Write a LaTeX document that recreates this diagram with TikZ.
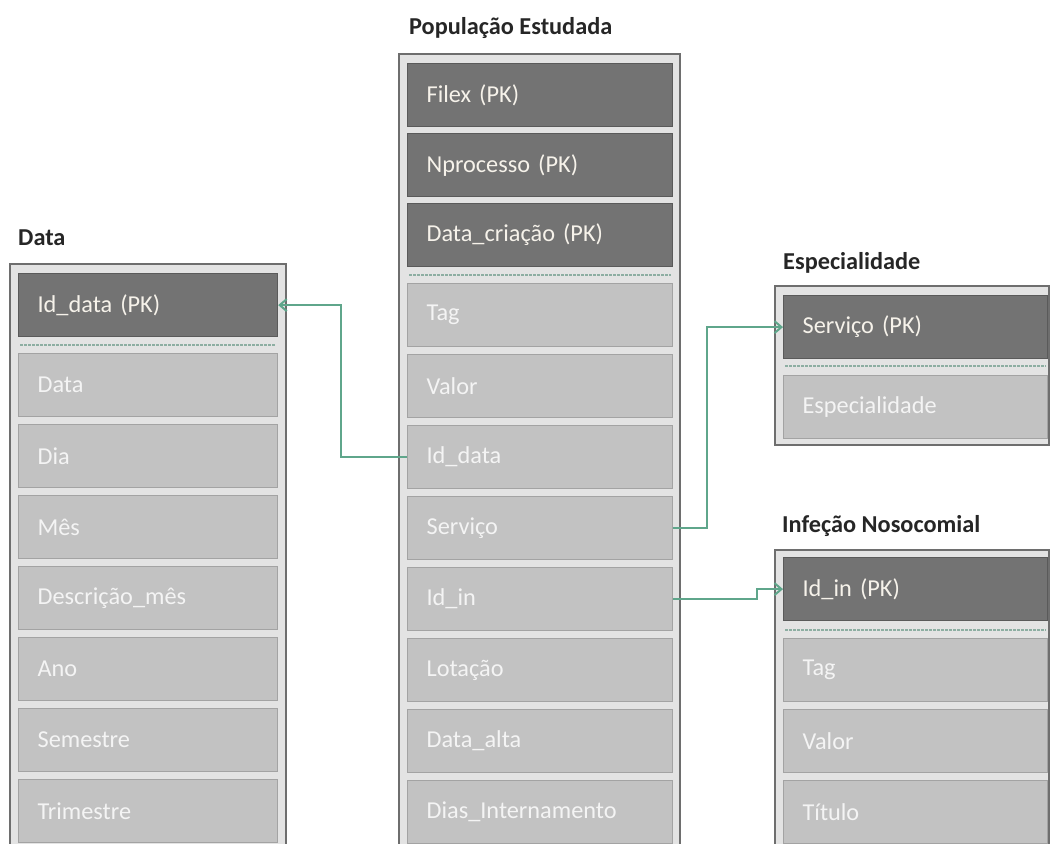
\documentclass[tikz,border=0pt]{standalone}
\usepackage{fontspec}
\setmainfont{Carlito}
\usetikzlibrary{arrows.meta}
\definecolor{frameline}{HTML}{6E6E6E}
\definecolor{framebg}{HTML}{E3E3E3}
\definecolor{keyfill}{HTML}{737373}
\definecolor{keyedge}{HTML}{5A5A5A}
\definecolor{keytext}{HTML}{F6F2EA}
\definecolor{fieldfill}{HTML}{C2C2C2}
\definecolor{fieldedge}{HTML}{A3A3A3}
\definecolor{fieldtext}{HTML}{F4F4F4}
\definecolor{titletext}{HTML}{262626}
\definecolor{sepline}{HTML}{8DAEA2}
\definecolor{linkgreen}{HTML}{5FA68B}
\begin{document}
\begin{tikzpicture}[x=1pt,y=-1pt,
  tablebox/.style={draw=frameline, line width=1.8pt, fill=framebg},
  rowbase/.style={anchor=north west, minimum height=63pt, inner xsep=19pt,
    inner ysep=0pt, align=left, line width=1.2pt,
    font=\fontsize{24.3}{27}\selectfont},
  keyrow/.style={rowbase, draw=keyedge, fill=keyfill, text=keytext},
  fieldrow/.style={rowbase, draw=fieldedge, fill=fieldfill, text=fieldtext},
  leftw/.style={text width=221pt},
  midw/.style={text width=227pt},
  rightw/.style={text width=226pt},
  title/.style={anchor=base west, inner sep=0pt, text=titletext,
    font=\bfseries\fontsize{24.3}{27}\selectfont},
  sep/.style={draw=sepline, line width=2pt, dash pattern=on 2.5pt off 1.5pt},
  link/.style={draw=linkgreen, line width=2pt,
    -{Straight Barb[length=7pt,width=12pt,line width=2pt]}}
]
\useasboundingbox (0,0) rectangle (1051,843);
\clip (0,0) rectangle (1051,843);

% ---------- Data ----------
\node[title] (tdata) at (18,245) {Data};
\draw[tablebox] (10,264) rectangle (286,880);
\node[keyrow,leftw]   (d0) at (18,273) {Id\_data (PK)};
\draw[sep] (20,345) -- (276,345);
\node[fieldrow,leftw] (d1) at (18,353) {Data};
\node[fieldrow,leftw] (d2) at (18,424) {Dia};
\node[fieldrow,leftw] (d3) at (18,495) {Mês};
\node[fieldrow,leftw] (d4) at (18,566) {Descrição\_mês};
\node[fieldrow,leftw] (d5) at (18,637) {Ano};
\node[fieldrow,leftw] (d6) at (18,708) {Semestre};
\node[fieldrow,leftw] (d7) at (18,779) {Trimestre};

% ---------- População Estudada ----------
\node[title] (tpop) at (409,35) {População Estudada};
\draw[tablebox] (399,54) rectangle (680,880);
\node[keyrow,midw]   (p0) at (407,63)  {Filex (PK)};
\node[keyrow,midw]   (p1) at (407,133) {Nprocesso (PK)};
\node[keyrow,midw]   (p2) at (407,203) {Data\_criação (PK)};
\draw[sep] (409,275) -- (671,275);
\node[fieldrow,midw] (p3) at (407,283) {Tag};
\node[fieldrow,midw] (p4) at (407,354) {Valor};
\node[fieldrow,midw] (p5) at (407,425) {Id\_data};
\node[fieldrow,midw] (p6) at (407,496) {Serviço};
\node[fieldrow,midw] (p7) at (407,567) {Id\_in};
\node[fieldrow,midw] (p8) at (407,638) {Lotação};
\node[fieldrow,midw] (p9) at (407,709) {Data\_alta};
\node[fieldrow,midw] (p10) at (407,780) {Dias\_Internamento};

% ---------- Especialidade ----------
\node[title] (tesp) at (783,269) {Especialidade};
\draw[tablebox] (775,286) rectangle (1049,445);
\node[keyrow,rightw]   (e0) at (783,295) {Serviço (PK)};
\draw[sep] (785,366) -- (1046,366);
\node[fieldrow,rightw] (e1) at (783,375) {Especialidade};

% ---------- Infeção Nosocomial ----------
\node[title] (tinf) at (782,532) {Infeção Nosocomial};
\draw[tablebox] (775,550) rectangle (1049,880);
\node[keyrow,rightw]   (i0) at (783,557) {Id\_in (PK)};
\draw[sep] (785,630) -- (1046,630);
\node[fieldrow,rightw] (i1) at (783,638) {Tag};
\node[fieldrow,rightw] (i2) at (783,709) {Valor};
\node[fieldrow,rightw] (i3) at (783,780) {Título};

% ---------- relations ----------
\coordinate (k1) at (341,0);
\coordinate (k2) at (707,0);
\coordinate (k3) at (757,0);
\draw[link] (p5.west) -- (p5.west -| k1) -- (d0.east -| k1) -- (d0.east);
\draw[link] (p6.east) -- (p6.east -| k2) -- (e0.west -| k2) -- (e0.west);
\draw[link] (p7.east) -- (p7.east -| k3) -- (i0.west -| k3) -- (i0.west);
\end{tikzpicture}
\end{document}
